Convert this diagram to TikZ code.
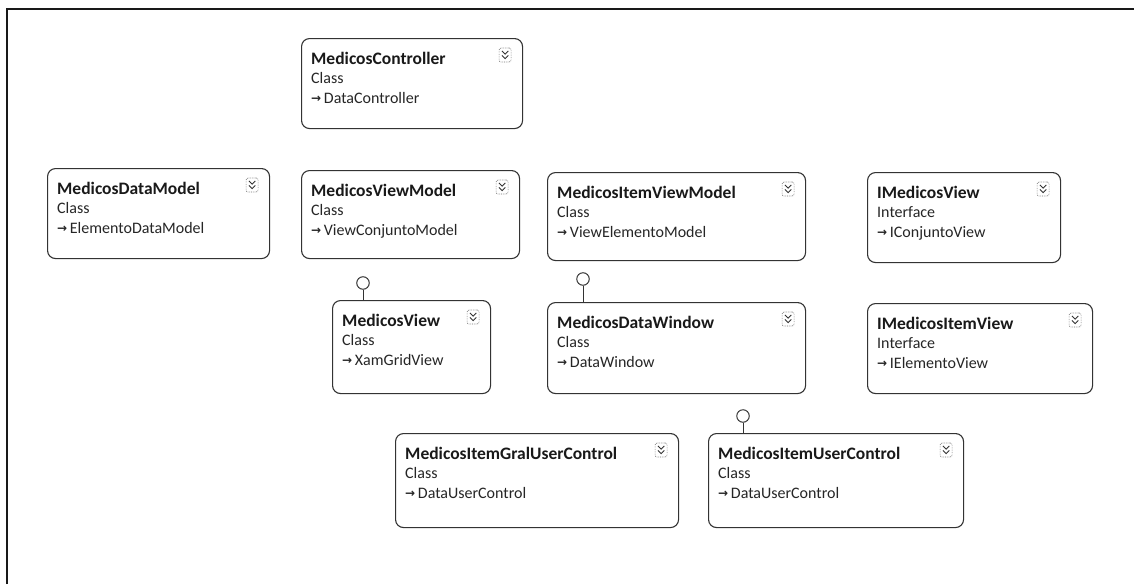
\documentclass[tikz,border=0pt]{standalone}
\usepackage{fontspec}
\setmainfont{Carlito}
\newfontfamily\arrowfont{DejaVu Sans}
\begin{document}
\begin{tikzpicture}[x=1pt,y=-1pt,
  umlbox/.style={draw=black!80,line width=1.1pt,rounded corners=8pt,inner sep=0pt,fill=white},
  titletext/.style={inner sep=0pt,font=\fontsize{17.5}{19}\selectfont\bfseries,text=black!90},
  kindtext/.style={inner sep=0pt,font=\fontsize{16}{18}\selectfont,text=black!85},
  icon/.style={draw=black!55,densely dotted,line width=0.7pt,rounded corners=2pt,minimum width=12pt,minimum height=14pt,inner sep=0pt},
  lolly/.style={circle,draw=black!80,line width=1pt,minimum size=12.5pt,inner sep=0pt},
  stem/.style={draw=black!80,line width=1pt}]
\useasboundingbox (0,0) rectangle (1134,584);
\fill[white] (0,0) rectangle (1134,584);
\coordinate (fbl) at (7,584);
\coordinate (ftl) at (7,9);
\coordinate (ftr) at (1134,9);
\draw[line width=2.6pt,black!90] (fbl) -- (ftl) -- (ftr);
\newcommand{\umlbox}[8]{%
  \node[umlbox,minimum width=#4pt,minimum height=#5pt,anchor=north west] (#1) at (#2,#3) {};
  \node[titletext,anchor=base west] (#1-t) at ([xshift=10pt,yshift=-26pt]#1.north west) {#6};
  \node[kindtext,anchor=base west] (#1-k) at ([xshift=10pt,yshift=-45pt]#1.north west) {#7};
  \node[kindtext,anchor=base west] (#1-b) at ([xshift=10pt,yshift=-65pt]#1.north west) {{\arrowfont\bfseries\fontsize{12}{14}\selectfont\raisebox{0.5pt}{→}}\,#8};
  \node[icon] (#1-i) at ([xshift=-18pt,yshift=-17pt]#1.north east) {};
  \draw[black!80,line width=0.9pt] ([xshift=-3.2pt,yshift=4pt]#1-i.center) -- ([yshift=0.8pt]#1-i.center) -- ([xshift=3.2pt,yshift=4pt]#1-i.center);
  \draw[black!80,line width=0.9pt] ([xshift=-3.2pt,yshift=-0.5pt]#1-i.center) -- ([yshift=-3.7pt]#1-i.center) -- ([xshift=3.2pt,yshift=-0.5pt]#1-i.center);
}
\umlbox{ctrl}{301}{38}{221}{90}{MedicosController}{Class}{DataController}
\umlbox{dm}{47}{168}{222}{90}{MedicosDataModel}{Class}{ElementoDataModel}
\umlbox{vm}{301}{170}{218}{88}{MedicosViewModel}{Class}{ViewConjuntoModel}
\umlbox{ivm}{547}{172}{258}{88}{MedicosItemViewModel}{Class}{ViewElementoModel}
\umlbox{iv}{867}{172}{193}{90}{IMedicosView}{Interface}{IConjuntoView}
\umlbox{iiv}{867}{303}{225}{90}{IMedicosItemView}{Interface}{IElementoView}
\umlbox{mv}{332}{300}{158}{93}{MedicosView}{Class}{XamGridView}
\umlbox{dw}{547}{302}{258}{91}{MedicosDataWindow}{Class}{DataWindow}
\umlbox{gral}{395}{433}{283}{94}{MedicosItemGralUserControl}{Class}{DataUserControl}
\umlbox{iuc}{708}{433}{255}{94}{MedicosItemUserControl}{Class}{DataUserControl}
\node[lolly] (l1) at (363,283) {};
\node[lolly] (l2) at (583,279) {};
\node[lolly] (l3) at (743,416) {};
\draw[stem] (l1.south) -- (l1.south |- mv.north);
\draw[stem] (l2.south) -- (l2.south |- dw.north);
\draw[stem] (l3.south) -- (l3.south |- iuc.north);
\end{tikzpicture}
\end{document}
